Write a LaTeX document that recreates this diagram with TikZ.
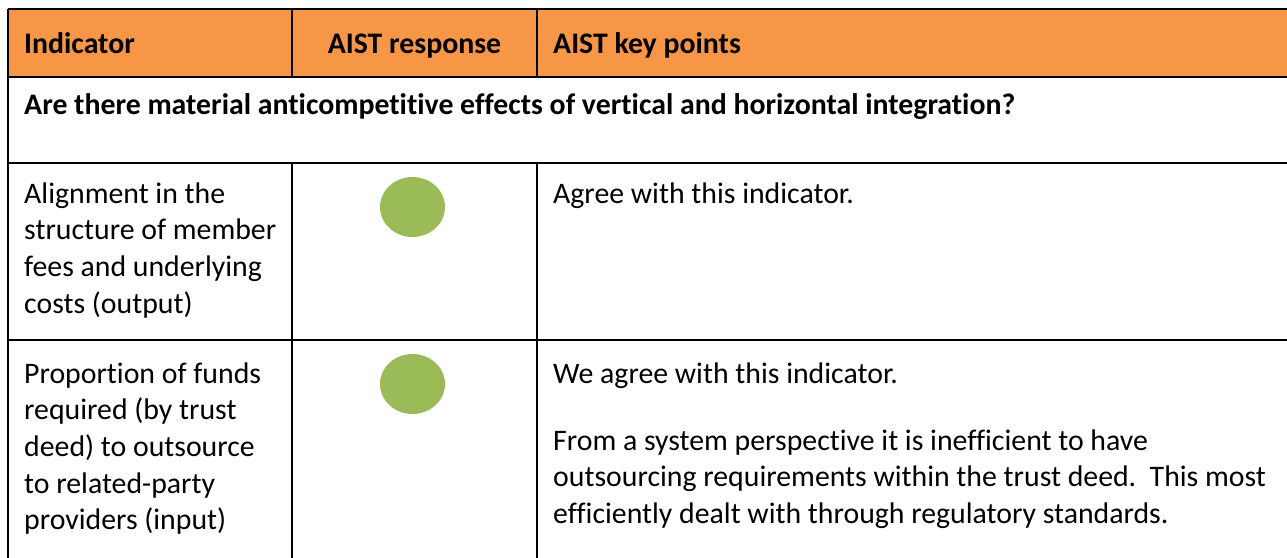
\documentclass[tikz,border=0pt]{standalone}
\usepackage{fontspec}
\setmainfont{Carlito}[Ligatures={NoCommon}]
\usetikzlibrary{shapes.geometric, positioning}
\definecolor{headorange}{HTML}{F79646}
\definecolor{dotgreen}{HTML}{9BBB59}
\newcommand{\cellfont}{\fontsize{29.8}{36.7}\selectfont}
\tikzset{
every node/.append style={inner sep=0pt, font=\cellfont},
grid/.style={line width=1.6pt},
head/.style={font=\cellfont\bfseries, anchor=base west},
single/.style={anchor=base west},
cell/.style={anchor=north west, align=left, yshift=25.7pt},
dot/.style={ellipse, fill=dotgreen, minimum width=65pt, minimum height=60pt},
}

\begin{document}
\begin{tikzpicture}[x=1pt, y=-1pt]
            \useasboundingbox (0,0) rectangle (1287,557);

            % Grid corners
            \coordinate (L0) at (8,9);    \coordinate (R0) at (1290,9);
            \coordinate (L1) at (8,77);   \coordinate (R1) at (1290,77);
            \coordinate (L2) at (8,163);  \coordinate (R2) at (1290,163);
            \coordinate (L3) at (8,340);  \coordinate (R3) at (1290,340);
            \coordinate (L4) at (8,560);
            \coordinate (A0) at (292,9);  \coordinate (A1) at (292,77);
            \coordinate (A2) at (292,163);\coordinate (A4) at (292,560);
            \coordinate (B0) at (537,9);  \coordinate (B1) at (537,77);
            \coordinate (B2) at (537,163);\coordinate (B4) at (537,560);

            % Header band and rules
            \fill[headorange] (L0) rectangle (R1);
            \draw[grid] (L0) -- (R0) (L1) -- (R1) (L2) -- (R2) (L3) -- (R3);
            \draw[grid] (L0) -- (L4);
            \draw[grid] (A0) -- (A1) (A2) -- (A4);
            \draw[grid] (B0) -- (B1) (B2) -- (B4);

            % Header
            \node[head] (hInd) at (24,53) {Indicator};
            \node[head, anchor=base] (hResp) at (414.5,53) {AIST response};
            \node[head] (hKey) at (553,53) {AIST key points};
            \node[head] (question) at (24,114) {Are there material anticompetitive effects of vertical and horizontal integration?};

            % Row: alignment
            \node[cell] (ind1) at (24,203) {\strut Alignment in the\\structure of member\\fees and underlying\\costs (output)};
            \node[dot] (dot1) at (412.5,207) {};
            \node[single] (key1) at (553,203) {Agree with this indicator.};

            % Row: proportion
            \node[cell] (ind2) at (24,383) {\strut Proportion of funds\\required (by trust\\deed) to outsource\\to related-party\\providers (input)};
            \node[dot] (dot2) at (412.5,384) {};
            \node[cell] (key2) at (553,383) {\strut We agree with this indicator.\\[30.3pt]From a system perspective it is inefficient to have\\outsourcing requirements within the trust deed.\ \ This most\\efficiently dealt with through regulatory standards.};
\end{tikzpicture}
\end{document}
